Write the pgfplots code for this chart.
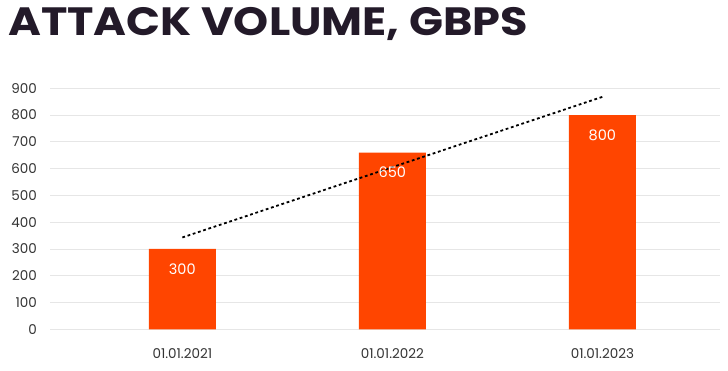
\documentclass[border=0pt]{standalone}
\usepackage{pgfplots}
\pgfplotsset{compat=1.18}
\usepackage{fontspec}
\setmainfont{Poppins}
\definecolor{barc}{HTML}{FF4500}
\definecolor{titlec}{HTML}{231A29}
\definecolor{tickc}{HTML}{333333}
\definecolor{gridc}{HTML}{E6E6E6}
\begin{document}
\begin{tikzpicture}[x=1pt,y=1pt]
\useasboundingbox (-50,-40.7) rectangle (678,329.3);
\node[anchor=base west, inner sep=0pt, text=titlec, font=\fontsize{39.5}{39.5}\selectfont\bfseries] at (-42,293.8) {\scalebox{1.13}[1]{ATTACK VOLUME, GBPS}};
\begin{axis}[
  at={(0,0)}, anchor=south west,
  scale only axis,
  width=670pt, height=241pt,
  xmin=-0.63, xmax=2.56,
  ymin=0, ymax=900,
  ytick={0,100,...,900},
  xtick={0,1,2},
  xticklabels={01.01.2021,01.01.2022,01.01.2023},
  axis line style={draw=none},
  major tick length=0pt,
  ymajorgrids,
  grid style={gridc, line width=0.8pt},
  tick label style={font=\fontsize{13.5}{13.5}\selectfont, text=tickc, inner sep=0pt},
  xticklabel style={anchor=north, font=\fontsize{13.5}{13.5}\selectfont},
  yticklabel style={anchor=east},
  yticklabel shift=13pt,
  xticklabel shift=19pt,
  /pgf/number format/assume math mode=true,
  clip=false,
]
\addplot[ybar, bar width=67pt, fill=barc, draw=none,
  point meta=explicit symbolic,
  nodes near coords,
  nodes near coords style={anchor=center, yshift=-20pt, text=white, font=\fontsize{14.5}{14.5}\selectfont}]
  coordinates {(0,300) [300] (1,660) [650] (2,800) [800]};
\addplot[sharp plot, no marks, black, line width=1.8pt, dash pattern=on 2.8pt off 2.7pt]
  coordinates {(0,343) (2,868)};
\end{axis}
\end{tikzpicture}
\end{document}
